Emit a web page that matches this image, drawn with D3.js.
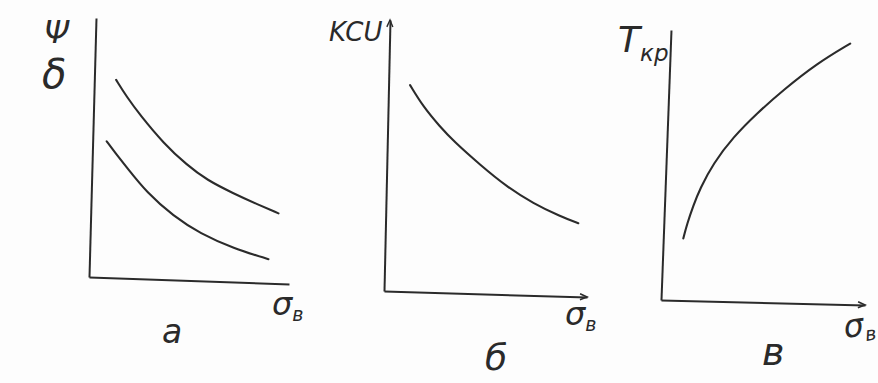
<!DOCTYPE html>
<html><head><meta charset="utf-8">
<script src="https://cdn.jsdelivr.net/npm/d3@7"></script>
<style>
html,body{margin:0;padding:0;background:#fdfdfd;}
svg{display:block;}
text{font-family:"DejaVu Sans","Noto Sans",sans-serif;font-style:italic;fill:#2a2a2a;}
</style></head>
<body>
<svg id="c" width="878" height="383"></svg>
<script>
// Data (relative units, 0-100 along each axis)
const xA = [10.9,16.4,23.3,35.4,47.4,57.6,71.0,82.9,93.8];
const yA1 = [76.4,70.0,63.2,52.6,44.5,39.0,34.2,30.4,27.1];
const xA2 = [7.0,11.3,17.4,27.7,41.4,54.9,71.8,89.4];
const yA2 = [52.6,48.4,42.8,33.4,24.6,18.3,13.0,9.3];
const xB = [10.6,17.3,25.8,32.5,45.9,59.3,72.6,85.8,94.9];
const yB = [76.2,68.4,61.2,56.1,47.6,39.8,33.9,29.5,27.1];
const xC = [9.8,11.4,14.1,17.1,23.1,32.5,43.5,56.1,72.0,88.0];
const yC = [23.0,28.4,35.2,41.6,51.0,61.0,69.9,78.8,88.9,96.6];

const svg = d3.select("#c");
const ink = "#2b2b2b";

function panel(cfg, series, arrowX, arrowY){
  const xd = [cfg.xe[0]-cfg.o[0], cfg.xe[1]-cfg.o[1]];
  const xl = Math.hypot(xd[0], xd[1]);
  const yd = [cfg.ye[0]-cfg.o[0], cfg.ye[1]-cfg.o[1]];
  const yl = Math.hypot(yd[0], yd[1]);
  const ux = [xd[0]/xl, xd[1]/xl], uy = [yd[0]/yl, yd[1]/yl];
  const g = svg.append("g").attr("transform",
    `matrix(${ux[0]},${ux[1]},${-uy[0]},${-uy[1]},${cfg.o[0]},${cfg.o[1]})`);
  const x = d3.scaleLinear().domain([0,100]).range([0,xl]);
  const y = d3.scaleLinear().domain([0,100]).range([0,-yl]);
  const ax = g.append("g").call(d3.axisBottom(x).ticks(0).tickSizeOuter(0));
  const ay = g.append("g").call(d3.axisLeft(y).ticks(0).tickSizeOuter(0));
  [ax, ay].forEach(a => a.select(".domain").attr("stroke", ink).attr("stroke-width", 2));
  if (arrowX) g.append("path").attr("d", `M${x(100)-7},-3L${x(100)},0L${x(100)-7},3`)
     .attr("fill","none").attr("stroke",ink).attr("stroke-width",1.6);
  if (arrowY) g.append("path").attr("d", `M-3,${y(100)+7}L0,${y(100)}L3,${y(100)+7}`)
     .attr("fill","none").attr("stroke",ink).attr("stroke-width",1.4);
  const line = d3.line().x(d=>x(d[0])).y(d=>y(d[1])).curve(d3.curveBasis);
  series.forEach(s => {
    const pts = d3.zip(s[0], s[1]);
    const full = [pts[0]].concat(pts, [pts[pts.length-1]]);
    g.append("path").datum(full).attr("d", line)
      .attr("fill","none").attr("stroke", ink).attr("stroke-width", 2.1)
      .attr("stroke-linecap","round");
  });
}

panel({o:[89,277], xe:[289,284], ye:[96,18]}, [[xA,yA1],[xA2,yA2]], false, false);
panel({o:[384,291], xe:[587,297], ye:[390,20]}, [[xB,yB]], true, true);
panel({o:[661,300], xe:[865,305], ye:[671,30]}, [[xC,yC]], true, false);

function txt(s, x, y, size, rot){
  const t = svg.append("text").attr("x",x).attr("y",y).attr("font-size",size).text(s);
  if (rot) t.attr("transform",`rotate(${rot},${x},${y})`);
  return t;
}
function sigmaB(x, y, rot){
  const t = svg.append("text").attr("x",x).attr("y",y).attr("font-size",32)
    .attr("transform", rot ? `rotate(${rot},${x},${y})` : null);
  t.append("tspan").text("σ");
  t.append("tspan").attr("font-size",19).attr("dy",6).text("в");
}
// panel a labels
txt("Ψ", 44, 43, 32);
txt("δ", 42, 88, 40);
sigmaB(272, 315, 0);
txt("a", 162, 343, 33);
// panel b labels
txt("KCU", 329, 41, 26);
sigmaB(565, 325, 0);
txt("б", 485, 370, 36);
// panel c labels
const tk = svg.append("text").attr("x",618).attr("y",52).attr("font-size",36);
tk.append("tspan").text("T");
tk.append("tspan").attr("font-size",23).attr("dy",9).text("кр");
sigmaB(845, 338, -8);
txt("в", 762, 365, 38);
</script>
</body></html>
